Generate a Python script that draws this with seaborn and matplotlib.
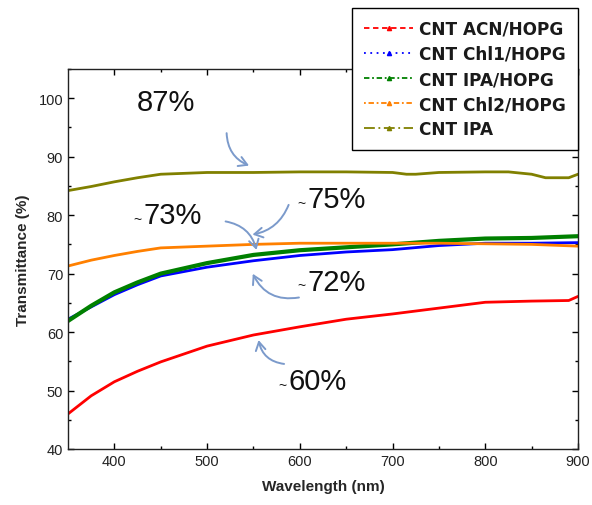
import numpy as np
import pandas as pd
import matplotlib
matplotlib.use("Agg")
import matplotlib.pyplot as plt
from matplotlib.lines import Line2D
import seaborn as sns

# ---------------- data ----------------
series_names = ["CNT ACN/HOPG", "CNT Chl1/HOPG", "CNT IPA/HOPG", "CNT Chl2/HOPG", "CNT IPA"]

wl_acn = [350, 375, 400, 425, 450, 500, 550, 600, 650, 700, 750, 800, 850, 890, 900]
tr_acn = [46.0, 49.1, 51.5, 53.3, 54.9, 57.6, 59.5, 60.9, 62.2, 63.1, 64.1, 65.1, 65.3, 65.4, 66.1]

wl_chl1 = [350, 375, 400, 425, 450, 500, 550, 600, 650, 700, 750, 800, 850, 900]
tr_chl1 = [62.2, 64.3, 66.4, 68.1, 69.6, 71.1, 72.2, 73.1, 73.7, 74.1, 74.8, 75.2, 75.2, 75.3]

wl_ipa_hopg = [350, 375, 400, 425, 450, 500, 550, 600, 650, 700, 750, 800, 850, 900]
tr_ipa_hopg = [61.9, 64.5, 66.8, 68.5, 70.0, 71.8, 73.2, 74.0, 74.5, 75.0, 75.6, 76.0, 76.1, 76.4]

wl_chl2 = [350, 375, 400, 425, 450, 500, 550, 600, 650, 700, 750, 800, 850, 900]
tr_chl2 = [71.3, 72.3, 73.1, 73.8, 74.4, 74.7, 75.0, 75.2, 75.2, 75.2, 75.2, 75.1, 75.0, 74.7]

wl_ipa = [350, 375, 400, 425, 450, 500, 550, 600, 650, 700, 715, 725, 750, 800, 825, 850, 865, 890, 900]
tr_ipa = [84.2, 84.9, 85.7, 86.4, 87.0, 87.3, 87.3, 87.4, 87.4, 87.3, 87.0, 87.0, 87.3, 87.4, 87.4, 87.0, 86.4, 86.4, 87.0]

colors = ["#ff0000", "#0000ff", "#008000", "#ff8000", "#808000"]

annot_texts = ["87%", "75%", "73%", "72%", "60%"]

# ---------------- build long table ----------------
frames = []
for name, wl, tr in zip(series_names,
                        [wl_acn, wl_chl1, wl_ipa_hopg, wl_chl2, wl_ipa],
                        [tr_acn, tr_chl1, tr_ipa_hopg, tr_chl2, tr_ipa]):
    frames.append(pd.DataFrame({"Wavelength": wl, "Transmittance": tr, "Sample": name}))
df = pd.concat(frames, ignore_index=True)

sns.set_style("ticks")
plt.rcParams["font.family"] = ["Liberation Sans", "DejaVu Sans"]

fig = plt.figure(figsize=(5.92, 5.06), dpi=100)
ax = fig.add_axes([68 / 592, 56 / 506, 510 / 592, 380 / 506])

palette = dict(zip(series_names, colors))
sns.lineplot(data=df, x="Wavelength", y="Transmittance", hue="Sample",
             palette=palette, ax=ax, legend=False, linewidth=2.0, sort=True)
for line in ax.get_lines():
    if line.get_color() == "#008000":
        line.set_linewidth(3.0)

ax.set_xlim(350, 900)
ax.set_ylim(40, 105)
ax.set_xticks([400, 500, 600, 700, 800, 900])
ax.set_xticks([450, 550, 650, 750, 850], minor=True)
ax.set_yticks([40, 50, 60, 70, 80, 90, 100])
ax.set_yticks([45, 55, 65, 75, 85, 95, 105], minor=True)
ax.tick_params(which="both", direction="in", top=True, right=True, width=1.0,
               labelsize=10.5, colors="black", labelcolor="#222222")
ax.tick_params(which="major", length=4)
ax.tick_params(which="minor", length=2)
for sp in ax.spines.values():
    sp.set_visible(True)
    sp.set_linewidth(1.0)
    sp.set_color("#222222")

ax.set_xlabel("Wavelength (nm)", fontsize=11, fontweight="bold", labelpad=8)
ax.set_ylabel("Transmittance (%)", fontsize=11, fontweight="bold", labelpad=6)

# ---------------- legend ----------------
styles = [(0, (3, 2)), (0, (1, 2.5)), (0, (3, 1.5, 1, 1.5)), (0, (1, 1.5, 3, 1.5)), (0, (6, 2, 1, 2))]
handles = [Line2D([], [], color=c, linestyle=s, linewidth=1.3, marker="^", markersize=3)
           for c, s in zip(colors, styles)]
leg = fig.legend(handles, series_names, loc="upper right",
                 bbox_to_anchor=(578 / 592, 1 - 9 / 506), bbox_transform=fig.transFigure,
                 frameon=True, fancybox=False, edgecolor="black", framealpha=1,
                 prop={"family": "DejaVu Sans", "weight": "bold", "size": 12.2},
                 handlelength=2.9, handletextpad=0.35, labelspacing=0.42,
                 borderpad=0.7, borderaxespad=0)
leg.get_frame().set_linewidth(1.0)
for t in leg.get_texts():
    t.set_color("#1a1a1a")

# ---------------- annotations ----------------
txt_kw = dict(fontsize=21, color="#111111", ha="center", va="center")
ax.text(456, 99.3, annot_texts[0], **txt_kw)
big_pos = [(640, 82.7), (463, 80.0), (640, 68.6), (619, 51.6)]
for t, (x, y) in zip(annot_texts[1:], big_pos):
    ax.text(x, y, t, **txt_kw)
    ax.text(x - 38, y - 0.6, "~", fontsize=10, color="#111111", ha="center", va="center")

arrow_color = "#7b9acb"
arrows = [((521, 94.5), (548, 88.3), 0.35),
          ((589, 82.2), (546, 76.6), -0.3),
          ((517, 79.0), (554, 73.6), -0.35),
          ((602, 66.0), (548, 70.4), -0.4),
          ((586, 54.5), (555, 59.1), -0.4)]
for start, end, rad in arrows:
    ax.annotate("", xy=end, xytext=start,
                arrowprops=dict(arrowstyle="->,head_length=0.6,head_width=0.35",
                                color=arrow_color, lw=1.4,
                                connectionstyle=f"arc3,rad={rad}"))

fig.savefig("out.png", dpi=100)
